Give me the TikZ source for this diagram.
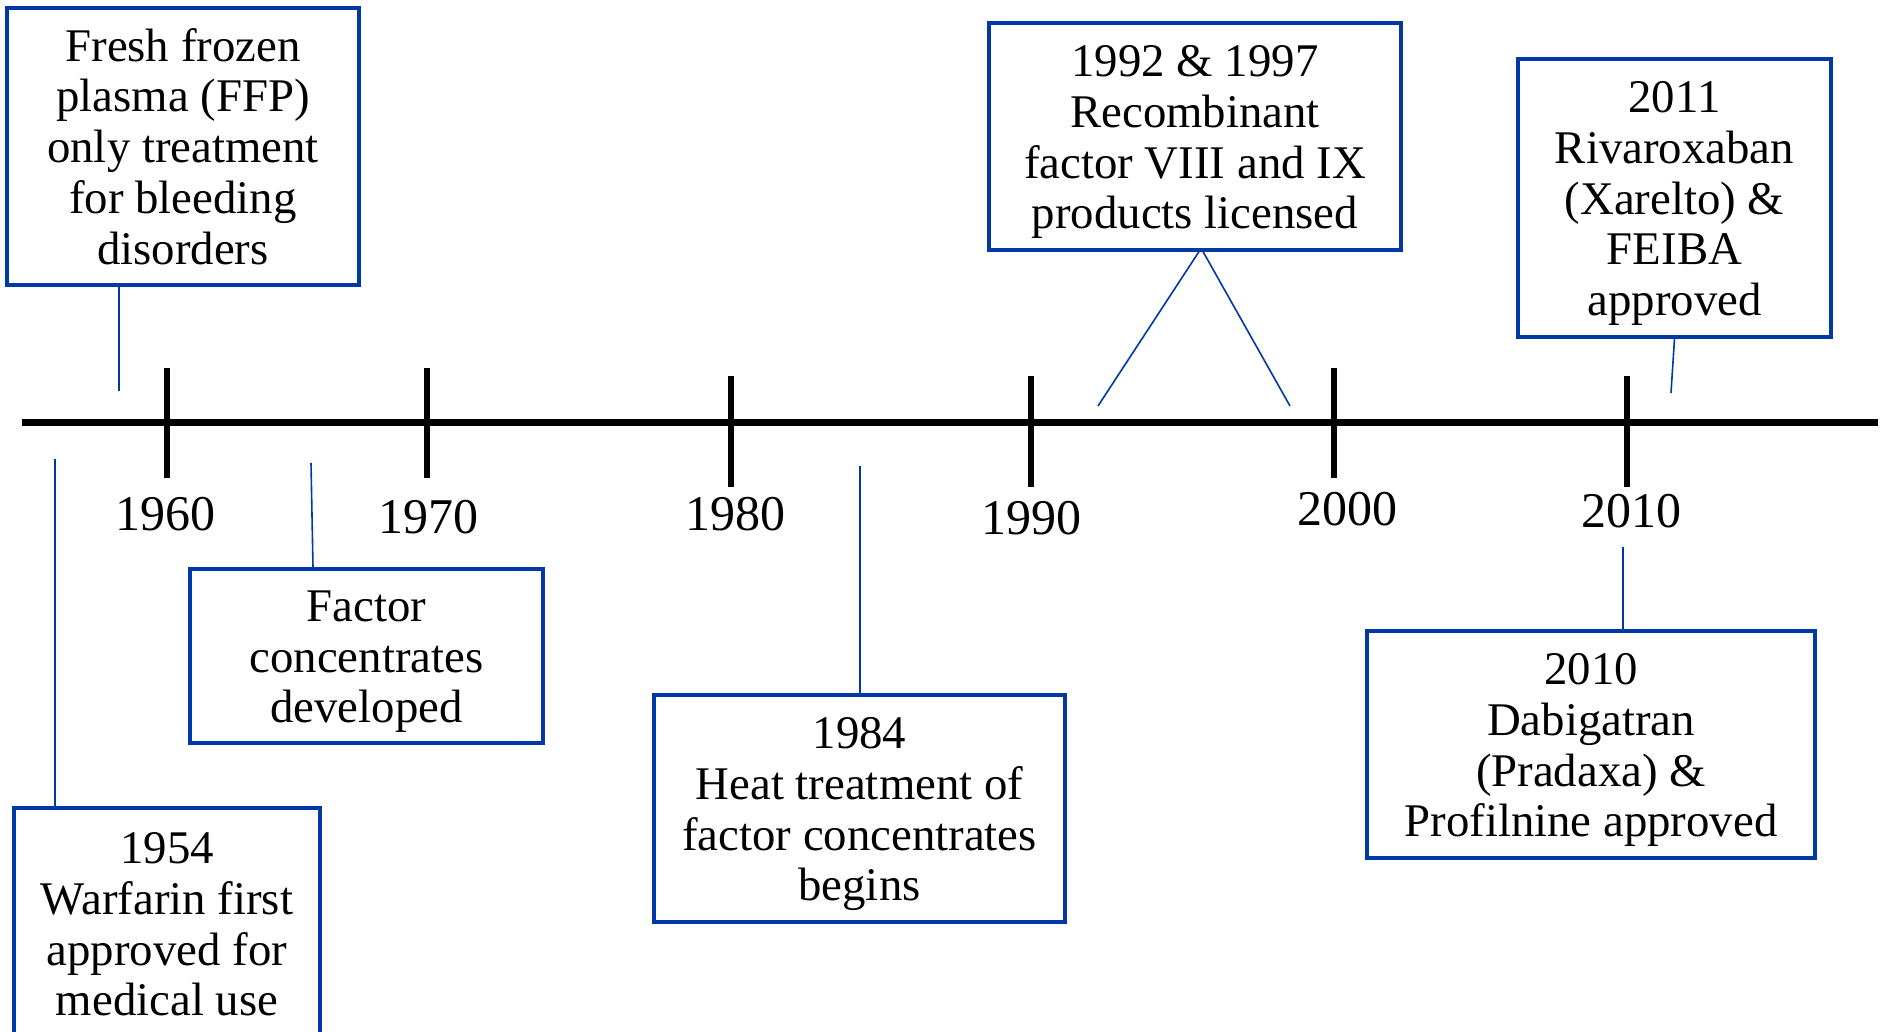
\documentclass[tikz,border=0pt]{standalone}
\usepackage{fontspec}
\setmainfont{Liberation Serif}
\definecolor{tlblue}{RGB}{0,57,166}
\newcommand{\tlboxfont}{\fontsize{23.4pt}{25.4pt}\selectfont}
\newcommand{\tlyearfont}{\fontsize{25pt}{28pt}\selectfont}
\newcommand{\tltop}{\vrule height 23.8pt depth 0pt width 0pt}
\begin{document}
\begin{tikzpicture}[x=0.5pt,y=-0.5pt,
  evbox/.style={draw=tlblue, line width=1.6pt, inner sep=0pt, align=center, font=\tlboxfont, fill=white},
  linkthick/.style={draw=tlblue, line width=1.3pt},
  linkthin/.style={draw=tlblue, line width=0.8pt},
  axisline/.style={line width=3.5pt, black},
  tickmark/.style={line width=3.2pt, black},
  yearlbl/.style={anchor=base, font=\tlyearfont, inner sep=0pt}]
\useasboundingbox (0,0) rectangle (1885,1032);
\clip (0,0) rectangle (1885,1032);
\fill[white] (0,0) rectangle (1885,1032);

% timeline
\coordinate (tlL) at (22,422);
\coordinate (tlR) at (1878,422);
\draw[axisline] (tlL) -- (tlR);
\draw[tickmark] (167,368) -- (167,478);
\draw[tickmark] (427,368) -- (427,478);
\draw[tickmark] (731,376) -- (731,487);
\draw[tickmark] (1031,376) -- (1031,487);
\draw[tickmark] (1334,368) -- (1334,478);
\draw[tickmark] (1627,376) -- (1627,487);

% year labels
\node[yearlbl] (y1960) at (165,530) {1960};
\node[yearlbl] (y1970) at (428,533) {1970};
\node[yearlbl] (y1980) at (735,530) {1980};
\node[yearlbl] (y1990) at (1031,534) {1990};
\node[yearlbl] (y2000) at (1347,525) {2000};
\node[yearlbl] (y2010) at (1631,527) {2010};

% event boxes
\node[evbox, minimum width=176pt, minimum height=138.5pt] (ffp) at (183,146.5)
  {\tltop Fresh frozen\\plasma (FFP)\\only treatment\\for bleeding\\disorders\strut};
\node[evbox, minimum width=176.5pt, minimum height=87pt] (fac) at (366.5,656)
  {\tltop Factor\\concentrates\\developed\strut};
\node[evbox, minimum width=153pt, minimum height=115.5pt] (war) at (167,923.5)
  {\tltop 1954\\Warfarin first\\approved for\\medical use\strut};
\node[evbox, minimum width=205.5pt, minimum height=113.5pt] (heat) at (859.5,808.5)
  {\tltop 1984\\Heat treatment of\\factor concentrates\\begins\strut};
\node[evbox, minimum width=206pt, minimum height=113.5pt] (rec) at (1195,136.5)
  {\tltop 1992 \& 1997\\Recombinant\\factor VIII and IX\\products licensed\strut};
\node[evbox, minimum width=156.5pt, minimum height=139pt] (riv) at (1674.5,198)
  {\tltop 2011\\Rivaroxaban\\(Xarelto) \&\\FEIBA\\approved\strut};
\node[evbox, minimum width=224pt, minimum height=113.5pt] (dab) at (1591,744.5)
  {\tltop 2010\\Dabigatran\\(Pradaxa) \&\\Profilnine approved\strut};

% connectors
\coordinate (ffpEnd) at (119,391);
\coordinate (facEnd) at (311,463);
\coordinate (warEnd) at (55,459);
\coordinate (heatEnd) at (860,466);
\coordinate (recA) at (1098,406);
\coordinate (recB) at (1290,406);
\coordinate (rivEnd) at (1671,393);
\coordinate (dabEnd) at (1623,547);

\draw[linkthick] (ffpEnd |- ffp.south) -- (ffpEnd);
\draw[linkthin] ([xshift=1pt]facEnd |- fac.north) -- (facEnd);
\draw[linkthick] (warEnd |- war.north) -- (warEnd);
\draw[linkthin] (heatEnd |- heat.north) -- (heatEnd);
\draw[linkthin] ([xshift=2pt]rec.south) -- (recA);
\draw[linkthin] ([xshift=4pt]rec.south) -- (recB);
\draw[linkthin] (riv.south) -- (rivEnd);
\draw[linkthick] (dabEnd |- dab.north) -- (dabEnd);
\end{tikzpicture}
\end{document}
